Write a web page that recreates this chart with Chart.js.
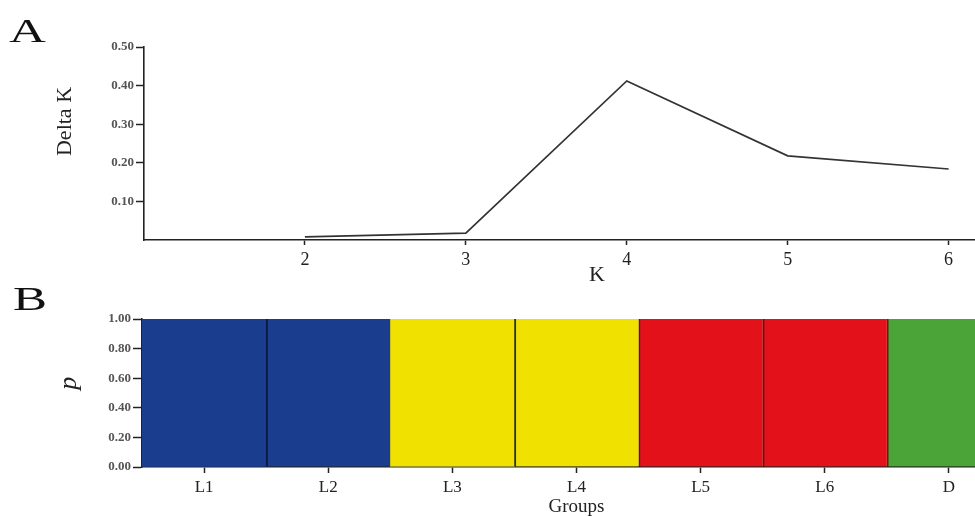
<!DOCTYPE html>
<html>
<head>
<meta charset="utf-8">
<script src="https://cdn.jsdelivr.net/npm/chart.js@4.4.1/dist/chart.umd.min.js"></script>
<style>
  html, body { margin: 0; padding: 0; background: #fff; overflow: hidden; width: 975px; height: 516px; }
  #wrapA { position: absolute; left: 0; top: 0; width: 1050px; height: 290px; }
  #wrapB { position: absolute; left: 0; top: 290px; width: 1011px; height: 226px; }
  .panel { position: absolute; font-family: "Liberation Serif", serif; font-size: 34px; color: #111; line-height: 1; transform-origin: 0 0; transform: scaleX(1.5); }
</style>
</head>
<body>
<div id="wrapA"><canvas id="chartA"></canvas></div>
<div id="wrapB"><canvas id="chartB"></canvas></div>
<div class="panel" style="left:9px; top:14px;">A</div>
<div class="panel" style="left:13px; top:282px;">B</div>
<script>
// ---- Panel A data ----
const kValues = [2, 3, 4, 5, 6];
const deltaK = [0.008, 0.018, 0.412, 0.218, 0.184];
const deltaKTicks = [0.10, 0.20, 0.30, 0.40, 0.50];

// ---- Panel B data ----
const groups = ['L1', 'L2', 'L3', 'L4', 'L5', 'L6', 'D'];
const cluster1 = [1, 1, 0, 0, 0, 0, 0];
const cluster2 = [0, 0, 1, 1, 0, 0, 0];
const cluster3 = [0, 0, 0, 0, 1, 1, 0];
const cluster4 = [0, 0, 0, 0, 0, 0, 1];
const pTicks = [0, 0.2, 0.4, 0.6, 0.8, 1.0];

const serif = '"Liberation Serif", "Times New Roman", serif';
const axisColor = '#222';

new Chart(document.getElementById('chartA'), {
  type: 'line',
  data: {
    datasets: [{
      data: kValues.map((k, i) => ({ x: k, y: deltaK[i] })),
      borderColor: '#333',
      borderWidth: 1.7,
      pointRadius: 0,
      tension: 0,
      fill: false
    }]
  },
  options: {
    responsive: true,
    maintainAspectRatio: false,
    animation: false,
    layout: { padding: { left: 0, right: 0, top: 47, bottom: 0 } },
    plugins: { legend: { display: false }, tooltip: { enabled: false } },
    scales: {
      x: {
        type: 'linear',
        min: 1, max: 6.63,
        afterBuildTicks: s => { s.ticks = kValues.map(v => ({ value: v })); },
        afterFit: s => { s.height = 50; },
        ticks: { color: '#222', font: { family: serif, size: 18 }, padding: 4 },
        grid: { drawOnChartArea: false, drawTicks: true, tickLength: 5, tickColor: axisColor, tickWidth: 1.5 },
        border: { display: true, color: axisColor, width: 1.6 },
        title: { display: true, text: 'K', color: '#222', font: { family: serif, size: 22 }, padding: { top: 0, bottom: 2 } }
      },
      y: {
        min: 0, max: 0.5,
        afterBuildTicks: s => { s.ticks = deltaKTicks.map(v => ({ value: v })); },
        afterFit: s => { s.width = 144; },
        ticks: { color: '#555', font: { family: serif, size: 13, weight: 'bold' }, padding: 2,
                 callback: v => v.toFixed(2) },
        grid: { drawOnChartArea: false, drawTicks: true, tickLength: 8, tickColor: axisColor, tickWidth: 1.5 },
        border: { display: true, color: axisColor, width: 1.6 },
        title: { display: true, text: '\u00a0\u00a0\u00a0\u00a0\u00a0\u00a0\u00a0\u00a0Delta K', color: '#222', font: { family: serif, size: 22 }, padding: { top: 52, bottom: 0 } }
      }
    }
  }
});

const clusterColors = ['#1b3d8e', '#f0e100', '#e2111a', '#4ba437'];
const clusterBorders = ['#0b1a45', '#f0e100', '#7a0a0e', '#3a3a2a'];
const clusterData = [cluster1, cluster2, cluster3, cluster4];

new Chart(document.getElementById('chartB'), {
  type: 'bar',
  data: {
    labels: groups,
    datasets: clusterData.map((d, i) => ({
      label: 'Cluster ' + (i + 1),
      data: d,
      backgroundColor: clusterColors[i],
      borderColor: groups.map((g, j) => {
        if (j === 3) return '#3a3500';
        if (j === 6) return '#4a2a10';
        return clusterBorders[i];
      }),
      borderWidth: groups.map((g, j) => ({ left: (j === 0 || j === 2) ? 0 : 2, right: 0, top: 0, bottom: 0 })),
      borderSkipped: false,
      barPercentage: 1.0,
      categoryPercentage: 1.0,
      stack: 's'
    }))
  },
  options: {
    responsive: true,
    maintainAspectRatio: false,
    animation: false,
    layout: { padding: { left: 0, right: 0, top: 29, bottom: 0 } },
    plugins: { legend: { display: false }, tooltip: { enabled: false } },
    scales: {
      x: {
        stacked: true,
        afterFit: s => { s.height = 49; },
        ticks: { color: '#222', font: { family: serif, size: 17 }, padding: 4 },
        grid: { drawOnChartArea: false, drawTicks: true, tickLength: 6, tickColor: axisColor, tickWidth: 1.5, offset: false },
        border: { display: true, color: axisColor, width: 1.6 },
        title: { display: true, text: 'Groups', color: '#222', font: { family: serif, size: 19 }, padding: { top: 0, bottom: -2 } }
      },
      y: {
        stacked: true,
        min: 0, max: 1,
        afterBuildTicks: s => { s.ticks = pTicks.map(v => ({ value: v })); },
        afterFit: s => { s.width = 142; },
        ticks: { color: '#555', font: { family: serif, size: 13, weight: 'bold' }, padding: 2,
                 callback: v => v.toFixed(2) },
        grid: { drawOnChartArea: false, drawTicks: true, tickLength: 9, tickColor: axisColor, tickWidth: 1.5 },
        border: { display: true, color: axisColor, width: 1.6 },
        title: { display: true, text: '\u00a0\u00a0\u00a0p', color: '#222', font: { family: serif, size: 26, style: 'italic' }, padding: { top: 54, bottom: 0 } }
      }
    }
  }
});
</script>
</body>
</html>
